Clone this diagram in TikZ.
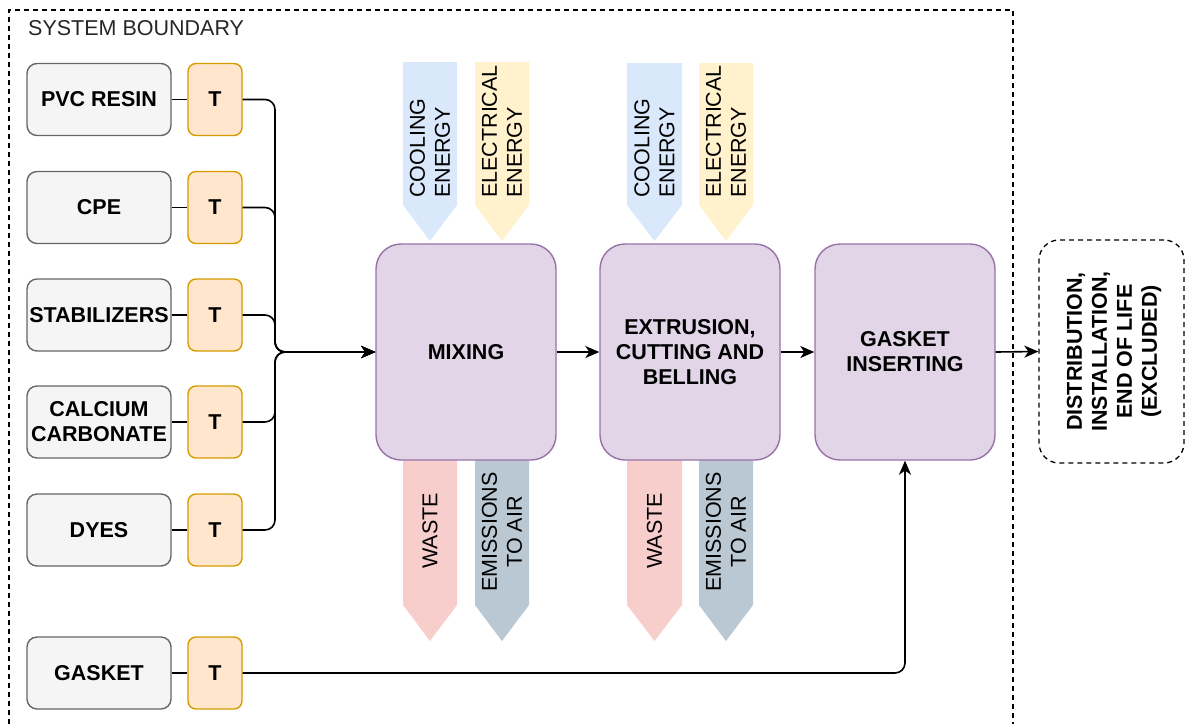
\documentclass[tikz,border=0pt]{standalone}
\usepackage{fontspec}
\setmainfont{Liberation Sans}
\usetikzlibrary{arrows.meta}
\definecolor{grayfill}{HTML}{F5F5F5}
\definecolor{graydraw}{HTML}{666666}
\definecolor{tfill}{HTML}{FFE6CC}
\definecolor{tdraw}{HTML}{D79B00}
\definecolor{pfill}{HTML}{E1D5E7}
\definecolor{pdraw}{HTML}{9673A6}
\definecolor{coolc}{HTML}{DAE8FC}
\definecolor{elecc}{HTML}{FFF2CC}
\definecolor{wastec}{HTML}{F8CECC}
\definecolor{emisc}{HTML}{BAC8D3}
\begin{document}
\begin{tikzpicture}[x=1pt,y=-1pt,
  every node/.style={font=\fontsize{21.5}{25}\selectfont, inner sep=0pt},
  matbox/.style={draw=graydraw, fill=grayfill, line width=1.4pt, rounded corners=10pt,
     minimum width=144pt, minimum height=72pt, align=center, font=\fontsize{21.5}{25}\selectfont\bfseries},
  tbox/.style={draw=tdraw, fill=tfill, line width=1.4pt, rounded corners=8pt,
     minimum width=54pt, minimum height=72pt, font=\fontsize{21.5}{25}\selectfont\bfseries},
  procbox/.style={draw=pdraw, fill=pfill, line width=1.4pt, rounded corners=25pt,
     minimum width=180pt, minimum height=216pt, align=center, font=\fontsize{21.5}{25}\selectfont\bfseries},
  conn/.style={draw=black, line width=1.6pt, rounded corners=10pt,
     -{Stealth[length=14pt,width=12pt,inset=4pt]}},
  link/.style={draw=black, line width=1.6pt},
  vtext/.style={rotate=90, align=left},
  vtextc/.style={rotate=90, align=center},
  bound/.style={line width=1.4pt, dash pattern=on 5pt off 4pt}
]
\useasboundingbox (0,0) rectangle (1185,724);
% system boundary
\draw[bound] (9,724) -- (9,10) -- (1013,10) -- (1013,724);
\node[anchor=west, text=black!85] (sb) at (28,28) {SYSTEM BOUNDARY};

% energy input arrows
\fill[coolc] (403,62) -- (457,62) -- (457,205) -- (430,241) -- (403,205) -- cycle;
\fill[elecc] (475,62) -- (529,62) -- (529,205) -- (502,241) -- (475,205) -- cycle;
\fill[coolc] (627,63) -- (682,63) -- (682,205) -- (654.5,241) -- (627,205) -- cycle;
\fill[elecc] (699,63) -- (753,63) -- (753,205) -- (726,241) -- (699,205) -- cycle;
\node[vtext, anchor=west] (c1) at (430,198) {COOLING\\ENERGY};
\node[vtext, anchor=west] (e1) at (502,198) {ELECTRICAL\\ENERGY};
\node[vtext, anchor=west] (c2) at (654.5,198) {COOLING\\ENERGY};
\node[vtext, anchor=west] (e2) at (726,198) {ELECTRICAL\\ENERGY};

% output arrows
\fill[wastec] (403,455) -- (457,455) -- (457,605) -- (430,641) -- (403,605) -- cycle;
\fill[emisc] (475,455) -- (529,455) -- (529,605) -- (502,641) -- (475,605) -- cycle;
\fill[wastec] (627,455) -- (682,455) -- (682,605) -- (654.5,641) -- (627,605) -- cycle;
\fill[emisc] (699,455) -- (753,455) -- (753,605) -- (726,641) -- (699,605) -- cycle;
\node[vtextc] (w1) at (430,531) {WASTE};
\node[vtextc] (a1) at (502,532) {EMISSIONS\\TO AIR};
\node[vtextc] (w2) at (654.5,531) {WASTE};
\node[vtextc] (a2) at (726,532) {EMISSIONS\\TO AIR};

% process boxes
\node[procbox] (mix) at (466,352) {MIXING};
\node[procbox] (ext) at (690,352) {EXTRUSION,\\CUTTING AND\\BELLING};
\node[procbox] (gi) at (905,352) {GASKET\\INSERTING};
\node[draw=black, line width=1.3pt, dash pattern=on 5pt off 4pt, rounded corners=20pt,
      minimum width=145pt, minimum height=223pt] (dist) at (1111.5,351.5) {};
\node[vtextc, font=\fontsize{21.5}{25}\selectfont\bfseries] (distt) at (1114,351.5)
   {DISTRIBUTION,\\INSTALLATION,\\END OF LIFE\\(EXCLUDED)};

% materials
\foreach \n/\y/\t in {m1/99.5/PVC RESIN, m2/207.5/CPE, m3/315/STABILIZERS, m4/422/{CALCIUM\\CARBONATE}, m5/530/DYES, m6/673/GASKET}{
  \node[matbox] (\n) at (99,\y) {\t};
}
\foreach \n/\y in {t1/99.5, t2/207.5, t3/315, t4/422, t5/530, t6/673}{
  \node[tbox] (\n) at (215,\y) {T};
}
\foreach \i in {1,...,6}{
  \draw[link] (m\i.east) -- (t\i.west);
}

% connectors to mixing
\foreach \i in {1,...,5}{
  \draw[conn] (t\i.east) -- (275,0 |- t\i.east) -- (275,352) -- (mix.west);
}
\draw[conn] (t6.east) -| (gi.south);
\draw[conn] (mix.east) -- (ext.west);
\draw[conn] (ext.east) -- (gi.west);
\draw[conn] (gi.east) -- (dist.west);
\end{tikzpicture}
\end{document}
